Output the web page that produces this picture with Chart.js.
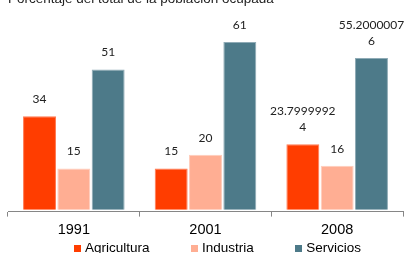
<!DOCTYPE html>
<html>
<head>
<meta charset="utf-8">
<script src="https://cdn.jsdelivr.net/npm/chart.js@4"></script>
<style>
  html, body { margin: 0; padding: 0; width: 405px; height: 253px; overflow: hidden; background: #fff; }
  #wrap { position: absolute; left: 0; top: -10px; width: 405px; height: 254px; }
  #leyenda { position: absolute; left: 74px; top: 240px; display: flex; gap: 41.5px;
    font: 13.5px "Liberation Sans", Arial, sans-serif; color: #000; line-height: 16px; }
  #leyenda span.item { display: flex; align-items: center; white-space: nowrap; }
  #leyenda span.caja { display: inline-block; width: 7px; height: 7px; margin-right: 4px; }
</style>
</head>
<body>
<div id="wrap"><canvas id="grafico_empleo"></canvas></div>
<div id="leyenda"></div>
<script>
// datos
const anios = ['1991', '2001', '2008'];
const agricultura = [34, 15, 23.79999924];
const industria = [15, 20, 16];
const servicios = [51, 61, 55.20000076];
const titulo = 'Porcentaje del total de la población ocupada';

const colores = {
  agricultura: '#ff3d00',
  industria: '#ffae93',
  servicios: '#4d7a89'
};

// etiquetas sobre las barras (Excel corta el texto largo en dos lineas)
const etiquetasBarras = {
  id: 'etiquetasBarras',
  afterDatasetsDraw(chart) {
    const ctx = chart.ctx;
    ctx.save();
    ctx.font = '12px Lato, sans-serif';
    ctx.fillStyle = '#222';
    ctx.textAlign = 'center';
    ctx.textBaseline = 'alphabetic';
    chart.data.datasets.forEach((ds, i) => {
      const meta = chart.getDatasetMeta(i);
      meta.data.forEach((bar, j) => {
        const txt = String(ds.data[j]);
        const lineas = [];
        for (let k = 0; k < txt.length; k += 10) lineas.push(txt.slice(k, k + 10));
        const base = bar.y - 13;
        lineas.forEach((l, n) => {
          ctx.fillText(l, bar.x, base - (lineas.length - 1 - n) * 16);
        });
      });
    });
    ctx.restore();
  }
};

const chart = new Chart(document.getElementById('grafico_empleo'), {
  type: 'bar',
  data: {
    labels: anios,
    datasets: [
      { label: 'Agricultura', data: agricultura, backgroundColor: colores.agricultura, borderColor: '#ff7a52' },
      { label: 'Industria', data: industria, backgroundColor: colores.industria, borderColor: '#ffcdbc' },
      { label: 'Servicios', data: servicios, backgroundColor: colores.servicios, borderColor: '#8fabb6' }
    ]
  },
  options: {
    responsive: true,
    maintainAspectRatio: false,
    animation: false,
    layout: { padding: { left: 8, right: 2, top: 0, bottom: 0 } },
    datasets: {
      bar: { categoryPercentage: 0.782, barPercentage: 0.96, borderWidth: 1, borderSkipped: 'bottom' }
    },
    plugins: {
      legend: { display: false },
      tooltip: { enabled: false },
      title: {
        display: true,
        text: titulo,
        align: 'start',
        color: '#222',
        font: { family: '"Liberation Sans", Arial, sans-serif', size: 13.5, weight: 'normal' },
        padding: { top: 1, bottom: 4 }
      }
    },
    scales: {
      x: {
        grid: { display: true, drawOnChartArea: false, drawTicks: true, tickLength: 5, color: '#868686', offset: true },
        border: { display: true, color: '#868686', width: 1 },
        ticks: {
          color: '#000',
          padding: 5,
          font: { family: '"Liberation Sans", Arial, sans-serif', size: 14.5 }
        }
      },
      y: {
        display: false,
        min: -0.7,
        max: 72.2
      }
    }
  },
  plugins: [etiquetasBarras]
});

// leyenda en HTML para respetar la separacion original
const leyenda = document.getElementById('leyenda');
chart.data.datasets.forEach(ds => {
  const item = document.createElement('span');
  item.className = 'item';
  const caja = document.createElement('span');
  caja.className = 'caja';
  caja.style.background = ds.backgroundColor;
  item.appendChild(caja);
  item.appendChild(document.createTextNode(ds.label));
  leyenda.appendChild(item);
});
</script>
</body>
</html>
